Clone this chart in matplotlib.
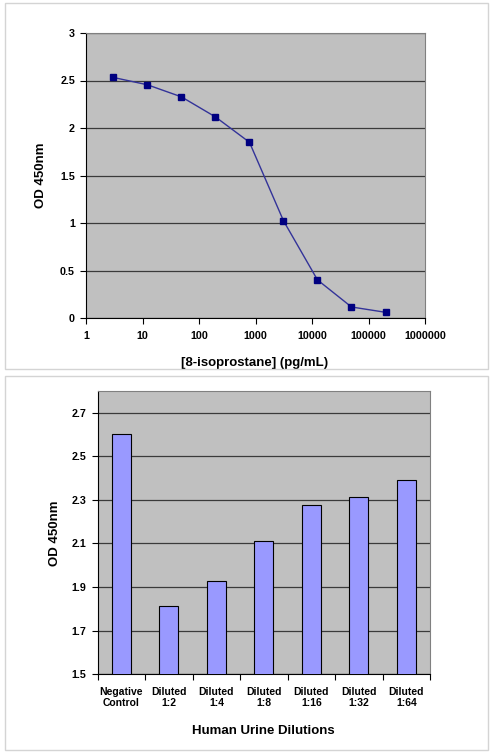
import numpy as np
import matplotlib
matplotlib.use("Agg")
import matplotlib.pyplot as plt
from matplotlib.patches import Rectangle
from matplotlib.ticker import FixedLocator, NullFormatter

plt.rcParams['font.family'] = ['Liberation Sans', 'DejaVu Sans']
plt.rcParams['font.weight'] = 'bold'

# standard curve
conc = [3.05, 12.2, 48.8, 195, 781, 3125, 12500, 50000, 200000]
od_std = [2.532, 2.455, 2.328, 2.117, 1.850, 1.024, 0.401, 0.116, 0.060]
x_ticks = [1, 10, 100, 1000, 10000, 100000, 1000000]

# urine dilutions
dilutions = ["Negative\nControl", "Diluted\n1:2", "Diluted\n1:4", "Diluted\n1:8",
             "Diluted\n1:16", "Diluted\n1:32", "Diluted\n1:64"]
od_urine = [2.60, 1.813, 1.926, 2.111, 2.274, 2.311, 2.389]
y_ticks_bar = [1.5, 1.7, 1.9, 2.1, 2.3, 2.5, 2.7]

W, H = 496, 756
fig = plt.figure(figsize=(W / 100, H / 100), dpi=100)


def box(x0, y0, x1, y1):
    # panel frame, pixel coords from top-left
    fig.patches.append(Rectangle((x0 / W, 1 - y1 / H), (x1 - x0) / W, (y1 - y0) / H,
                                 transform=fig.transFigure, fill=False,
                                 edgecolor="#d4d4d4", linewidth=1.0))


def ax_at(x0, y0, x1, y1):
    return fig.add_axes([x0 / W, 1 - y1 / H, (x1 - x0) / W, (y1 - y0) / H])


def style(ax):
    ax.set_facecolor("#c0c0c0")
    ax.grid(axis="y", color="#3a3a3a", linewidth=0.9)
    ax.set_axisbelow(True)
    for s in ["top", "right"]:
        ax.spines[s].set_color("#808080")
    for s in ["left", "bottom"]:
        ax.spines[s].set_color("black")
    ax.tick_params(which="both", direction="out", length=4, width=0.8, labelsize=7.7)


box(5, 3, 488, 369)
box(5, 376, 488, 750)

# --- top: standard curve
ax1 = ax_at(86, 33, 425, 318)
style(ax1)
ax1.plot(conc, od_std, color="#333399", linewidth=1.0, marker="s",
         markersize=4.5, markerfacecolor="#000080", markeredgecolor="#000080")
ax1.set_xscale("log")
ax1.set_xlim(1, 1000000)
ax1.set_ylim(0, 3)
ax1.xaxis.set_major_locator(FixedLocator(x_ticks))
ax1.set_xticklabels([str(v) for v in x_ticks])
ax1.xaxis.set_minor_formatter(NullFormatter())
ax1.tick_params(axis="x", which="minor", length=0)
ax1.set_yticks([0, 0.5, 1, 1.5, 2, 2.5, 3])
ax1.set_yticklabels(["0", "0.5", "1", "1.5", "2", "2.5", "3"])
ax1.tick_params(axis="x", pad=5)
ax1.tick_params(axis="y", pad=4)
ax1.set_xlabel("[8-isoprostane] (pg/mL)", fontsize=9.5, fontweight="bold")
ax1.set_ylabel("OD 450nm", fontsize=9.5, fontweight="bold")
ax1.xaxis.set_label_coords(0.4985, -0.137)
ax1.yaxis.set_label_coords(-0.115, 0.5)

# --- bottom: urine dilutions
ax2 = ax_at(97.7, 390.7, 430, 674.3)
style(ax2)
pos = np.arange(len(dilutions))
ax2.bar(pos, od_urine, width=0.4, bottom=0, color="#9999ff",
        edgecolor="black", linewidth=0.8, zorder=3)
ax2.set_xlim(-0.5, len(dilutions) - 0.5)
ax2.set_ylim(1.5, 2.8)
ax2.set_yticks(y_ticks_bar)
ax2.set_yticklabels([f"{v:.1f}" for v in y_ticks_bar])
ax2.set_xticks(pos)
ax2.set_xticklabels(dilutions, fontsize=7.5, linespacing=1.2)
ax2.set_xticks(np.arange(len(dilutions) + 1) - 0.5, minor=True)
ax2.tick_params(axis="x", which="major", length=0, pad=9)
ax2.tick_params(axis="y", pad=4)
ax2.set_xlabel("Human Urine Dilutions", fontsize=9.5, fontweight="bold")
ax2.set_ylabel("OD 450nm", fontsize=9.5, fontweight="bold")
ax2.xaxis.set_label_coords(0.497, -0.179)
ax2.yaxis.set_label_coords(-0.110, 0.498)

fig.savefig("out.png", dpi=100)
